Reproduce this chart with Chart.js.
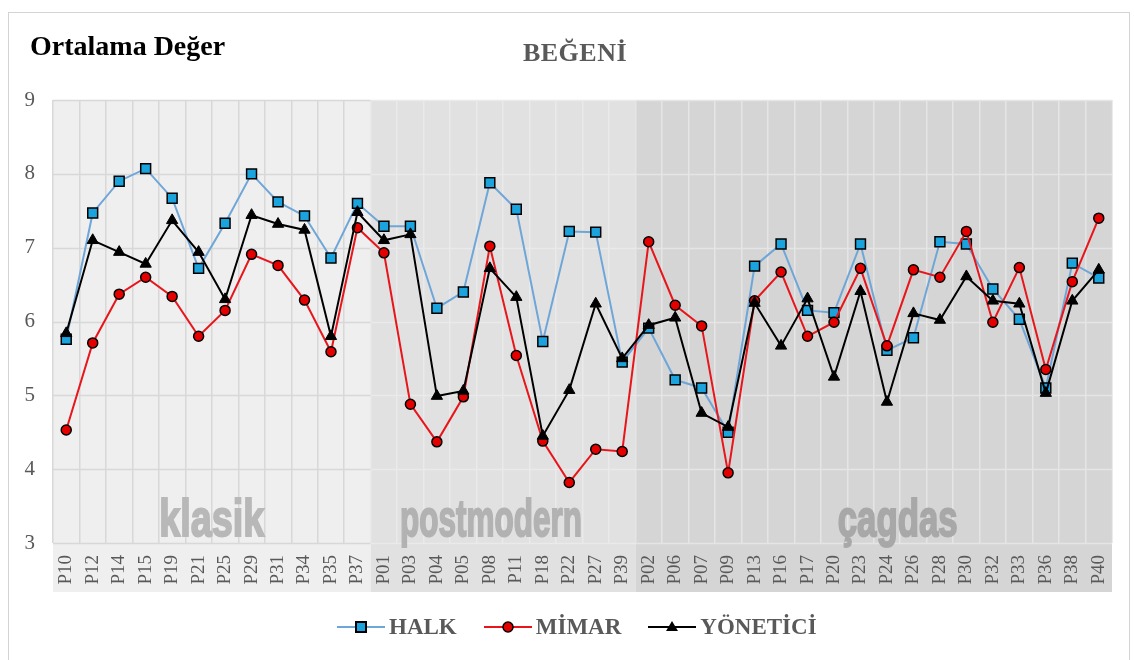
<!DOCTYPE html>
<html>
<head>
<meta charset="utf-8">
<script src="https://cdn.jsdelivr.net/npm/chart.js@4/dist/chart.umd.min.js"></script>
<style>
  body { margin: 0; background: #fff; }
  #wrap { position: relative; width: 1134px; height: 660px; overflow: hidden; }
  #frame { position: absolute; left: 8px; top: 12px; width: 1122px; height: 660px; border: 1px solid #d4d4d4; box-sizing: border-box; }
  #chart { position: absolute; left: 0; top: 0; }
  .title { position: absolute; font-family: "Liberation Serif", serif; font-weight: bold; line-height: 1; white-space: nowrap; }
  #ytitle { left: 30px; top: 32px; font-size: 28px; color: #000; }
  #ctitle { left: 0; width: 1150px; text-align: center; top: 40px; font-size: 26px; color: #595959; letter-spacing: 0.5px; }
  #legend { position: absolute; left: 337px; top: 614px; display: flex; align-items: center;
            font-family: "Liberation Serif", serif; font-weight: bold; font-size: 23px; color: #595959; }
  .item { display: flex; align-items: center; margin-right: 27px; }
  .item svg { margin-right: 4px; }
</style>
</head>
<body>
<div id="wrap">
  <div id="frame"></div>
  <canvas id="chart" width="1134" height="660"></canvas>
  <div class="title" id="ytitle">Ortalama Değer</div>
  <div class="title" id="ctitle">BEĞENİ</div>
  <div id="legend"></div>
</div>
<script>
const categories = ['P10','P12','P14','P15','P19','P21','P25','P29','P31','P34','P35','P37',
                    'P01','P03','P04','P05','P08','P11','P18','P22','P27','P39',
                    'P02','P06','P07','P09','P13','P16','P17','P20','P23','P24','P26','P28','P30','P32','P33','P36','P38','P40'];

const halk = [5.76, 7.47, 7.90, 8.07, 7.67, 6.72, 7.33, 8.00, 7.62, 7.43, 6.86, 7.60,
              7.29, 7.29, 6.18, 6.40, 7.88, 7.52, 5.73, 7.22, 7.21, 5.45,
              5.91, 5.21, 5.10, 4.50, 6.75, 7.05, 6.15, 6.12, 7.05, 5.61, 5.78, 7.08, 7.05, 6.44, 6.03, 5.10, 6.79, 6.59];

const mimar = [4.53, 5.71, 6.37, 6.60, 6.34, 5.80, 6.15, 6.91, 6.76, 6.29, 5.59, 7.27,
               6.93, 4.88, 4.37, 4.98, 7.02, 5.54, 4.38, 3.82, 4.27, 4.24,
               7.08, 6.22, 5.94, 3.95, 6.28, 6.67, 5.80, 5.99, 6.72, 5.67, 6.70, 6.60, 7.22, 5.99, 6.73, 5.35, 6.54, 7.40];

const yonetici = [5.84, 7.10, 6.94, 6.78, 7.37, 6.94, 6.30, 7.44, 7.32, 7.24, 5.80, 7.48,
                  7.10, 7.18, 4.99, 5.06, 6.72, 6.33, 4.45, 5.07, 6.24, 5.50,
                  5.95, 6.05, 4.76, 4.57, 6.25, 5.67, 6.31, 5.25, 6.41, 4.91, 6.11, 6.02, 6.61, 6.28, 6.24, 5.03, 6.28, 6.70];

const yTickValues = [3, 4, 5, 6, 7, 8, 9];

const seriesNames = ['HALK', 'MİMAR', 'YÖNETİCİ'];

const sectionNames = ['klasik', 'postmodern', 'çagdas'];
const sectionFirst = ['P10', 'P01', 'P02'];
const sectionLast = ['P37', 'P39', 'P40'];

// look of the three shaded bands
const sectionBg = ['#efefef', '#e1e1e1', '#d5d5d5'];
const sectionGrid = ['#d8d8d8', '#eaeaea', '#e5e5e5'];
const sectionInk = ['#b8b8b8', '#b2b2b2', '#a8a8a8'];
const wmShift = [0, -12, 24];
const wmWidth = [105, 182, 120];

function sectionOf(i) {
  for (let s = sectionNames.length - 1; s >= 0; s--) {
    if (i >= categories.indexOf(sectionFirst[s])) return s;
  }
  return 0;
}

const sectionPlugin = {
  id: 'sections',
  beforeDraw(chart) {
    const { ctx, chartArea, scales: { x } } = chart;
    const half = (x.getPixelForValue(1) - x.getPixelForValue(0)) / 2;
    ctx.save();
    sectionNames.forEach((name, s) => {
      const x0 = x.getPixelForValue(categories.indexOf(sectionFirst[s])) - half;
      const x1 = x.getPixelForValue(categories.indexOf(sectionLast[s])) + half;
      ctx.fillStyle = sectionBg[s];
      ctx.fillRect(x0, chartArea.top, x1 - x0, x.bottom - chartArea.top);
    });
    ctx.restore();
  },
  beforeDatasetsDraw(chart) {
    const { ctx, scales: { x, y } } = chart;
    const half = (x.getPixelForValue(1) - x.getPixelForValue(0)) / 2;
    ctx.save();
    sectionNames.forEach((name, s) => {
      const x0 = x.getPixelForValue(categories.indexOf(sectionFirst[s])) - half;
      const x1 = x.getPixelForValue(categories.indexOf(sectionLast[s])) + half;
      ctx.strokeStyle = sectionGrid[s];
      ctx.lineWidth = 1.5;
      y.ticks.forEach(t => {
        const py = Math.round(y.getPixelForValue(t.value)) + 0.5;
        ctx.beginPath();
        ctx.moveTo(x0, py);
        ctx.lineTo(x1, py);
        ctx.stroke();
      });
      // watermark label
      ctx.font = 'bold 52px "Liberation Sans Narrow", "Liberation Sans", sans-serif';
      const w = ctx.measureText(name).width;
      const cx = (x0 + x1) / 2 + wmShift[s];
      ctx.save();
      ctx.translate(cx, y.getPixelForValue(3) - 7);
      ctx.scale(wmWidth[s] / w, 1);
      ctx.fillStyle = sectionInk[s];
      ctx.strokeStyle = sectionInk[s];
      ctx.lineWidth = 2;
      ctx.textAlign = 'center';
      ctx.textBaseline = 'alphabetic';
      ctx.fillText(name, 0, 0);
      ctx.strokeText(name, 0, 0);
      ctx.restore();
    });
    ctx.restore();
  }
};

new Chart(document.getElementById('chart').getContext('2d'), {
  type: 'line',
  data: {
    labels: categories,
    datasets: [
      { label: seriesNames[0], data: halk, order: 3, borderColor: '#6fa6d8', borderWidth: 2,
        pointStyle: 'rect', pointRadius: 7, pointBackgroundColor: '#1ba3de', pointBorderColor: '#000', pointBorderWidth: 1.5, tension: 0 },
      { label: seriesNames[1], data: mimar, order: 2, borderColor: '#e8151b', borderWidth: 2,
        pointStyle: 'circle', pointRadius: 5, pointBackgroundColor: '#e50000', pointBorderColor: '#000', pointBorderWidth: 1.5, tension: 0 },
      { label: seriesNames[2], data: yonetici, order: 1, borderColor: '#000', borderWidth: 2,
        pointStyle: 'triangle', pointRadius: 6.5, pointBackgroundColor: '#000', pointBorderColor: '#000', pointBorderWidth: 1, tension: 0 }
    ]
  },
  options: {
    responsive: false,
    animation: false,
    layout: { padding: { left: 0, right: 22, top: 100, bottom: 68 } },
    plugins: { legend: { display: false }, tooltip: { enabled: false } },
    scales: {
      x: {
        offset: true,
        grid: {
          offset: true,
          drawTicks: false,
          lineWidth: 1.5,
          color: c => sectionGrid[sectionOf(Math.min(c.index, categories.length - 1))]
        },
        border: { display: false },
        ticks: {
          autoSkip: false, minRotation: 90, maxRotation: 90, padding: 12,
          color: '#595959', font: { family: 'Liberation Serif', size: 19 }
        },
        afterFit: s => { s.height = 49; }
      },
      y: {
        min: 3, max: 9,
        afterBuildTicks: s => { s.ticks = yTickValues.map(v => ({ value: v })); },
        grid: { display: false, drawTicks: false },
        border: { display: false },
        ticks: { padding: 18, color: '#595959', font: { family: 'Liberation Serif', size: 21 } },
        afterFit: s => { s.width = 53; }
      }
    }
  },
  plugins: [sectionPlugin]
});

// legend: line with the marker in the middle, as in the original
const markers = [
  '<rect x="19" y="5" width="10" height="10" fill="#1ba3de" stroke="#000" stroke-width="2"/>',
  '<circle cx="24" cy="10" r="5" fill="#e50000" stroke="#000" stroke-width="1.5"/>',
  '<polygon points="24,4 30,14 18,14" fill="#000"/>'
];
const lineColors = ['#6fa6d8', '#e8151b', '#000'];
document.getElementById('legend').innerHTML = seriesNames.map((n, i) =>
  `<span class="item"><svg width="48" height="20"><line x1="0" y1="10" x2="48" y2="10" stroke="${lineColors[i]}" stroke-width="2"/>${markers[i]}</svg>${n}</span>`
).join('');
</script>
</body>
</html>
